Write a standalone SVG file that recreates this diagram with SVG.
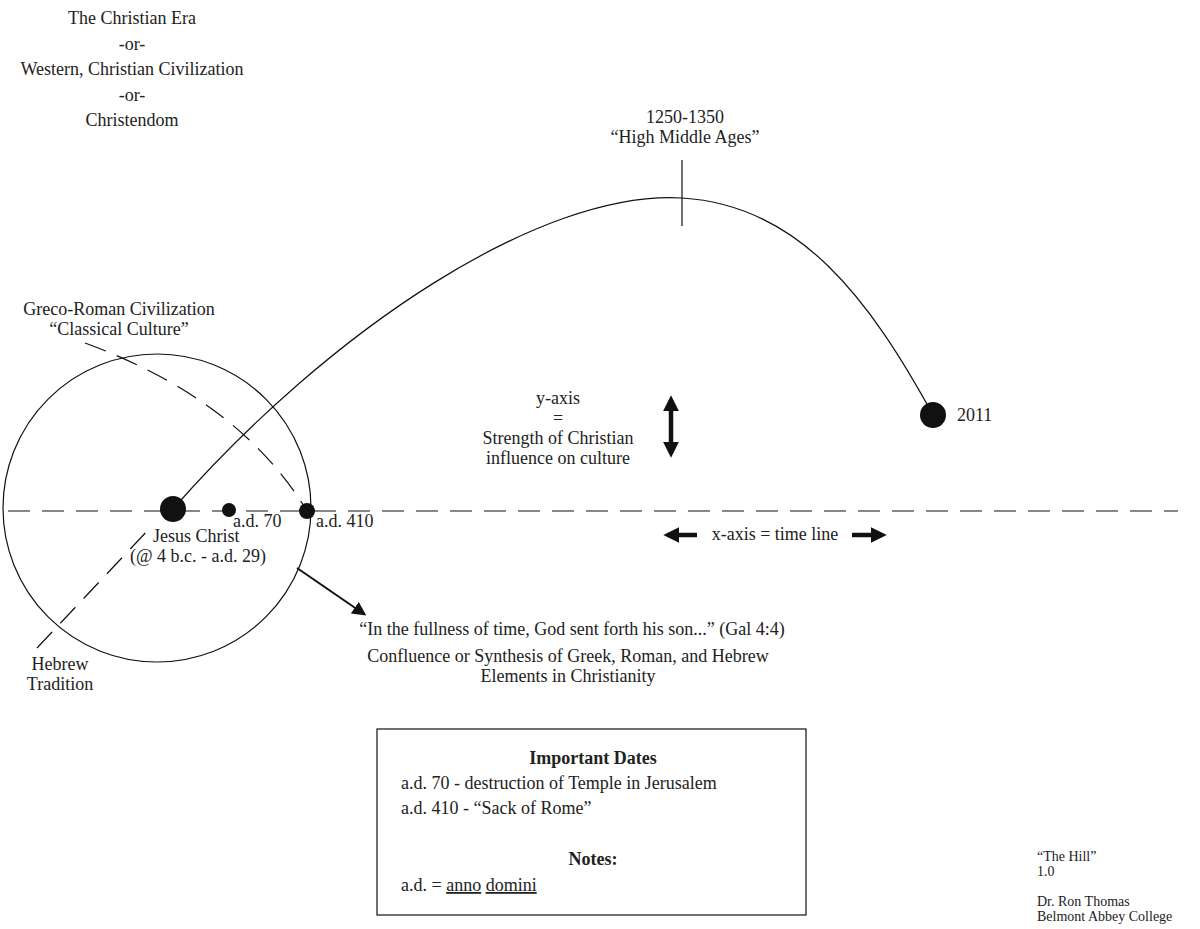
<svg xmlns="http://www.w3.org/2000/svg" width="1200" height="929" viewBox="0 0 1200 929">
<style>
text{font-family:"Liberation Serif",serif;font-size:18px;fill:#222}
.c{text-anchor:middle}
.s{font-size:14px}
.l{stroke:#111;fill:none;stroke-width:1.2}
.d{stroke:#111;fill:none;stroke-width:1.2;stroke-dasharray:22,12}
.a2{stroke:#111;stroke-width:2}
.a4{stroke:#111;stroke-width:4.5}
</style>
<defs>
<marker id="ah" viewBox="0 0 10 10" refX="8" refY="5" markerWidth="7" markerHeight="7" orient="auto-start-reverse"><path d="M0,0L10,5L0,10z" fill="#111"/></marker>
<marker id="bh" viewBox="0 0 10 10" refX="7" refY="5" markerWidth="3.5" markerHeight="3.5" orient="auto-start-reverse"><path d="M0,0L10,5L0,10z" fill="#111"/></marker>
</defs>
<rect width="1200" height="929" fill="#fff"/>
<g id="title"><text class="c" x="132" y="24">The Christian Era</text><text class="c" x="132" y="50">-or-</text><text class="c" x="132" y="75">Western, Christian Civilization</text><text class="c" x="132" y="101">-or-</text><text class="c" x="132" y="126">Christendom</text></g>
<g id="connectors">
<line class="d" x1="8" y1="511" x2="1178" y2="511"/>
<path class="d" d="M85,343 Q240,400 307,511"/>
<path class="d" d="M37,648 L150,528"/>
<path class="l" d="M173,509 C330,330 540,190 682,198 C800,205 870,300 933,415"/>
<line class="l" x1="682" y1="160" x2="682" y2="226"/>
<line class="a2" x1="297" y1="568" x2="364" y2="614" marker-end="url(#ah)"/>
<line class="a4" x1="671" y1="400" x2="671" y2="453" marker-start="url(#bh)" marker-end="url(#bh)"/>
<line class="a4" x1="697" y1="535" x2="668" y2="535" marker-end="url(#bh)"/>
<line class="a4" x1="852" y1="535" x2="882" y2="535" marker-end="url(#bh)"/>
</g>
<g id="circle"><circle class="l" cx="157" cy="508" r="154"/></g>
<g id="jesus"><circle cx="173" cy="509" r="13" fill="#111"/><text x="153" y="542">Jesus Christ</text><text x="130" y="562">(@ 4 b.c. - a.d. 29)</text></g>
<g id="ad70"><circle cx="229" cy="510" r="7" fill="#111"/><text x="233" y="527">a.d. 70</text></g>
<g id="ad410"><circle cx="307" cy="511" r="8" fill="#111"/><text x="316" y="527">a.d. 410</text></g>
<g id="y2011"><circle cx="933" cy="415" r="13" fill="#111"/><text x="957" y="421">2011</text></g>
<g id="peak"><text class="c" x="685" y="123">1250-1350</text><text class="c" x="685" y="143">“High Middle Ages”</text></g>
<g id="greco"><text class="c" x="119" y="315">Greco-Roman Civilization</text><text class="c" x="119" y="335">“Classical Culture”</text></g>
<g id="hebrew"><text class="c" x="60" y="670">Hebrew</text><text class="c" x="60" y="690">Tradition</text></g>
<g id="yaxis"><text class="c" x="558" y="404">y-axis</text><text class="c" x="558" y="424">=</text><text class="c" x="558" y="444">Strength of Christian</text><text class="c" x="558" y="464">influence on culture</text></g>
<g id="xaxis"><text class="c" x="775" y="540">x-axis = time line</text></g>
<g id="quote"><text class="c" x="572" y="635">“In the fullness of time, God sent forth his son...” (Gal 4:4)</text><text class="c" x="568" y="662">Confluence or Synthesis of Greek, Roman, and Hebrew</text><text class="c" x="568" y="682">Elements in Christianity</text></g>
<g id="box"><rect class="l" x="377" y="729" width="429" height="186"/>
<text class="c" x="593" y="764" style="font-weight:bold">Important Dates</text>
<text x="401" y="789">a.d. 70 - destruction of Temple in Jerusalem</text>
<text x="401" y="814">a.d. 410 - “Sack of Rome”</text>
<text class="c" x="593" y="865" style="font-weight:bold">Notes:</text>
<text x="401" y="891">a.d. = <tspan text-decoration="underline">anno</tspan> <tspan text-decoration="underline">domini</tspan></text></g>
<g id="credit"><text class="s" x="1037" y="861">“The Hill”</text><text class="s" x="1037" y="876">1.0</text><text class="s" x="1037" y="906">Dr. Ron Thomas</text><text class="s" x="1037" y="921">Belmont Abbey College</text></g>
</svg>
